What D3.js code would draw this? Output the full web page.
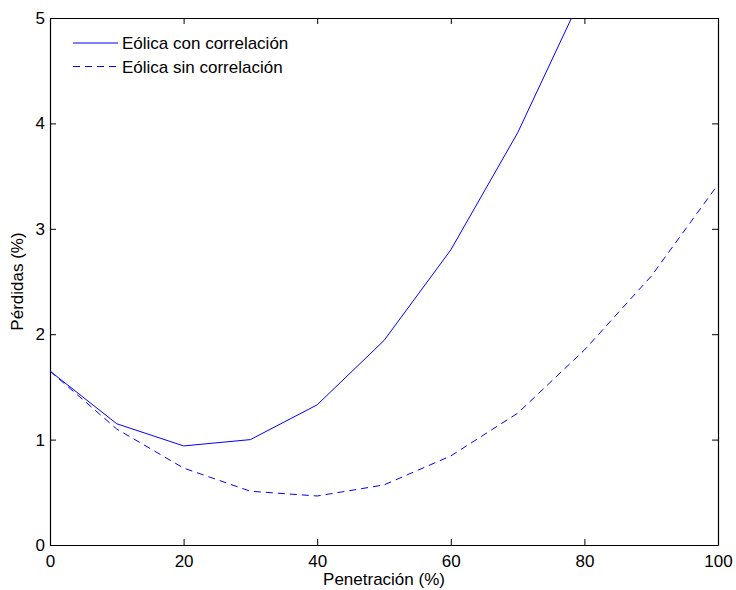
<!DOCTYPE html>
<html>
<head>
<meta charset="utf-8">
<script src="https://cdn.jsdelivr.net/npm/d3@7"></script>
<style>
  body { margin: 0; background: #fff; }
  text { font-family: "Liberation Sans", Arial, sans-serif; fill: #000; }
</style>
</head>
<body>
<svg id="chart" width="736" height="590"></svg>
<script>
// penetration (%) and losses (%)
const penetracion = [0, 10, 20, 30, 40, 50, 60, 70, 80, 90, 100];
const conCorrelacion = [1.65, 1.15, 0.94, 1.0, 1.33, 1.94, 2.80, 3.91, 5.26];
const sinCorrelacion = [1.65, 1.10, 0.73, 0.51, 0.465, 0.57, 0.845, 1.25, 1.85, 2.55, 3.42];
const xTicks = [0, 20, 40, 60, 80, 100];
const yTicks = [0, 1, 2, 3, 4, 5];

const plotLeft = 50, plotRight = 718, plotTop = 18, plotBottom = 545;
const fontSize = 17;
const svg = d3.select("#chart");

const xs = d3.scaleLinear().domain([0, 100]).range([plotLeft, plotRight]);
const ys = d3.scaleLinear().domain([0, 5]).range([plotBottom, plotTop]);

svg.append("defs").append("clipPath").attr("id", "clip")
   .append("rect").attr("x", plotLeft).attr("y", plotTop)
   .attr("width", plotRight - plotLeft).attr("height", plotBottom - plotTop);

// frame + ticks on all four sides
const tickLen = 6;
svg.append("g").attr("transform", `translate(0,${plotBottom})`)
   .call(d3.axisBottom(xs).tickValues(xTicks).tickSizeInner(-tickLen).tickSizeOuter(0).tickPadding(10).tickFormat(d3.format("d")));
svg.append("g").attr("transform", `translate(0,${plotTop})`)
   .call(d3.axisTop(xs).tickValues(xTicks).tickSizeInner(-tickLen).tickSizeOuter(0).tickFormat(""));
svg.append("g").attr("transform", `translate(${plotLeft},0)`)
   .call(d3.axisLeft(ys).tickValues(yTicks).tickSizeInner(-tickLen).tickSizeOuter(0).tickPadding(5).tickFormat(d3.format("d")));
svg.append("g").attr("transform", `translate(${plotRight},0)`)
   .call(d3.axisRight(ys).tickValues(yTicks).tickSizeInner(-tickLen).tickSizeOuter(0).tickFormat(""));

svg.selectAll(".domain").attr("stroke", "#000").attr("stroke-width", 1.2);
svg.selectAll(".tick line").attr("stroke", "#000");
svg.selectAll(".tick text").attr("font-size", fontSize).attr("font-family", "Liberation Sans, Arial, sans-serif");

const line = d3.line().x((d, i) => xs(penetracion[i])).y(d => ys(d));
const plot = svg.append("g").attr("clip-path", "url(#clip)");
plot.append("path").attr("d", line(conCorrelacion))
    .attr("fill", "none").attr("stroke", "#0000ff").attr("stroke-width", 1);
plot.append("path").attr("d", line(sinCorrelacion))
    .attr("fill", "none").attr("stroke", "#0000ff").attr("stroke-width", 1).attr("stroke-dasharray", "7,5");

// legend
const legend = [["Eólica con correlación", null], ["Eólica sin correlación", "7,5"]];
legend.forEach((l, i) => {
    const y = 43 + i * 23.5;
    svg.append("line").attr("x1", 73).attr("x2", 118).attr("y1", y).attr("y2", y)
       .attr("stroke", "#0000ff").attr("stroke-dasharray", l[1]);
    svg.append("text").attr("x", 122).attr("y", y + 6).attr("font-size", fontSize).text(l[0]);
});

// axis labels
svg.append("text").attr("x", (plotLeft + plotRight) / 2).attr("y", 585).attr("text-anchor", "middle")
   .attr("font-size", fontSize).text("Penetración (%)");
svg.append("text").attr("transform", `translate(23,${(plotTop + plotBottom) / 2}) rotate(-90)`)
   .attr("text-anchor", "middle").attr("font-size", fontSize).text("Pérdidas (%)");
</script>
</body>
</html>
